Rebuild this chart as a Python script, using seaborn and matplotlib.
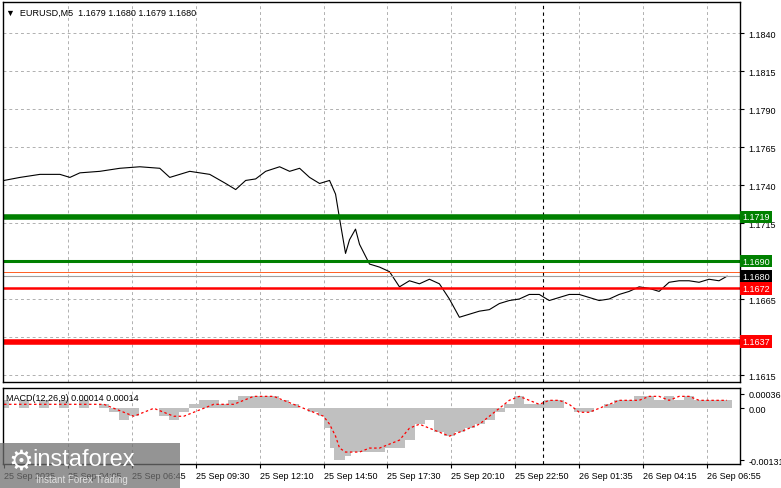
import matplotlib
matplotlib.use("Agg")
import matplotlib.pyplot as plt
import seaborn as sns
import pandas as pd
from matplotlib.patches import Rectangle

plt.rcParams["font.family"] = "Liberation Sans"

price_bars = [0, 8, 18, 28, 33, 38, 48, 58, 68, 78, 83, 93, 103, 111, 116, 121, 126, 131, 138, 143, 148, 153, 158, 163, 166, 168, 171, 173, 176, 178, 183, 188, 193, 198, 203, 208, 213, 218, 223, 228, 233, 238, 243, 248, 253, 258, 263, 268, 273, 278, 283, 288, 293, 298, 303, 308, 313, 318, 323, 328, 333, 338, 343, 348, 353, 358, 362]
price_vals = [1.1743, 1.1745, 1.1747, 1.1747, 1.1745, 1.1748, 1.1749, 1.1751, 1.1752, 1.1751, 1.1745, 1.1749, 1.1747, 1.1741, 1.1737, 1.1743, 1.1744, 1.1749, 1.1752, 1.1749, 1.1751, 1.1745, 1.1741, 1.1743, 1.1734, 1.1718, 1.1695, 1.1704, 1.1711, 1.1701, 1.1688, 1.1686, 1.1683, 1.1673, 1.1677, 1.1675, 1.1678, 1.1675, 1.1665, 1.1653, 1.1655, 1.1657, 1.1658, 1.1662, 1.1664, 1.1665, 1.1668, 1.1668, 1.1664, 1.1666, 1.1668, 1.1668, 1.1666, 1.1664, 1.1665, 1.1668, 1.1670, 1.1673, 1.1672, 1.1670, 1.1676, 1.1677, 1.1677, 1.1676, 1.1678, 1.1677, 1.1680]

macd_bars = [0, 10, 20, 30, 40, 50, 55, 60, 65, 70, 75, 80, 85, 90, 95, 100, 105, 110, 115, 120, 125, 130, 135, 140, 145, 150, 155, 160, 163, 166, 168, 171, 173, 176, 178, 183, 188, 193, 198, 203, 208, 213, 218, 223, 228, 233, 238, 243, 248, 253, 258, 263, 268, 273, 278, 283, 288, 293, 298, 303, 308, 313, 318, 323, 328, 333, 338, 343, 348, 353, 358, 362]
macd_hist = [0.0002, 0.0002, 0.0002, 0.0002, 0.0002, 0.0001, -0.0001, -0.0003, -0.0002, 0.0000, 0.0000, -0.0002, -0.0003, -0.0001, 0.0001, 0.0002, 0.0002, 0.0001, 0.0002, 0.0003, 0.0003, 0.0003, 0.0003, 0.0002, 0.0001, 0.0000, -0.0001, -0.0002, -0.0005, -0.0010, -0.0013, -0.0012, -0.0011, -0.0011, -0.0011, -0.0011, -0.0011, -0.0010, -0.0010, -0.0008, -0.0004, -0.0003, -0.0006, -0.0007, -0.0006, -0.0005, -0.0004, -0.0003, -0.0001, 0.0001, 0.0003, 0.0001, 0.0001, 0.0002, 0.0002, 0.0000, -0.0001, -0.0001, 0.0000, 0.0001, 0.0002, 0.0002, 0.0003, 0.0003, 0.0002, 0.0003, 0.0002, 0.0003, 0.0002, 0.0002, 0.0002, 0.0002]
macd_signal = [0.0001, 0.0001, 0.0001, 0.0001, 0.0001, 0.0001, 0.0000, -0.0001, -0.0002, -0.0001, 0.0000, -0.0001, -0.0002, -0.0002, -0.0001, 0.0000, 0.0001, 0.0001, 0.0001, 0.0002, 0.0003, 0.0003, 0.0003, 0.0002, 0.0001, 0.0000, -0.0001, -0.0002, -0.0004, -0.0007, -0.0010, -0.0011, -0.0011, -0.0011, -0.0011, -0.0010, -0.0010, -0.0009, -0.0008, -0.0005, -0.0004, -0.0005, -0.0006, -0.0007, -0.0006, -0.0005, -0.0004, -0.0002, 0.0000, 0.0002, 0.0003, 0.0002, 0.0001, 0.0002, 0.0002, 0.0001, -0.0001, -0.0001, 0.0000, 0.0001, 0.0002, 0.0002, 0.0002, 0.0003, 0.0003, 0.0002, 0.0003, 0.0003, 0.0002, 0.0002, 0.0002, 0.0002]

tick_labels = ["25 Sep 2025", "25 Sep 04:05", "25 Sep 06:45", "25 Sep 09:30", "25 Sep 12:10", "25 Sep 14:50",
               "25 Sep 17:30", "25 Sep 20:10", "25 Sep 22:50", "26 Sep 01:35", "26 Sep 04:15", "26 Sep 06:55"]
price_ticks = [1.1840, 1.1815, 1.1790, 1.1765, 1.1740, 1.1715, 1.1665, 1.1615]
levels = [(1.1719, "#008000", 4.0), (1.1690, "#008000", 2.2), (1.1672, "#ff0000", 1.8), (1.1637, "#ff0000", 4.0)]
current_price = 1.1680
ask_price = 1.1683
vline_bar = 270

W, H = 781, 489
fig = plt.figure(figsize=(7.81, 4.89), dpi=100)
fig.patch.set_facecolor("white")
xl, xr = 3 / W, 740 / W
ax = fig.add_axes([xl, 1 - 383 / H, xr - xl, 380 / H])
ax2 = fig.add_axes([xl, 1 - 465 / H, xr - xl, 76 / H])
xmin, xmax = -0.5, 368.5
tick_pos = [32 * i for i in range(len(tick_labels))]

df = pd.DataFrame({"bar": price_bars, "price": price_vals})
sns.lineplot(data=df, x="bar", y="price", ax=ax, color="black", lw=0.8)
ax.set_ylim(1.16104, 1.18604)
for a in (ax, ax2):
    a.set_xlim(xmin, xmax)
    a.set_xlabel(""); a.set_ylabel("")
    a.set_xticks(tick_pos)
    for t in tick_pos[1:]:
        a.axvline(t, color="#b0b0b0", ls=(0, (3, 3)), lw=0.7, zorder=0)
    a.axvline(vline_bar, color="black", ls=(0, (3, 3)), lw=0.8)
    for s in a.spines.values():
        s.set_color("black"); s.set_linewidth(1)
    a.yaxis.tick_right()
    a.tick_params(axis="y", labelsize=6.5, length=3, pad=3)
ax.set_xticklabels([])
ax.tick_params(axis="x", length=0)
ax.set_yticks(price_ticks)
ax.set_yticklabels([f"{p:.4f}" for p in price_ticks])
for p in price_ticks + [1.1690, 1.1640]:
    ax.axhline(p, color="#b0b0b0", ls=(0, (3, 3)), lw=0.7, zorder=0)
ax.axhline(current_price, color="#a0a0a0", lw=0.8)
ax.axhline(ask_price, color="#ff4500", lw=0.6)
for lv, c, lw in levels:
    ax.axhline(lv, color=c, lw=lw)

def tag(y, text, color, axis=ax):
    axis.text(1.003, y, text, transform=axis.get_yaxis_transform(), color="white", fontsize=6.5,
              va="center", ha="left", bbox=dict(boxstyle="square,pad=0.2", fc=color, ec="none"), clip_on=False)
tag(levels[0][0], "1.1719", "#008000")
tag(levels[1][0], "1.1690", "#008000")
tag(current_price, "1.1680", "black")
tag(levels[2][0], "1.1672", "#ff0000")
tag(levels[3][0], "1.1637", "#ff0000")

ax.text(0.004, 0.985, "\u25bc  EURUSD,M5  1.1679 1.1680 1.1679 1.1680", transform=ax.transAxes,
        fontsize=6.5, va="top", ha="left")

ax2.bar(macd_bars, macd_hist, width=5.2, color="#c0c0c0", align="center", lw=0)
sns.lineplot(x=macd_bars, y=macd_signal, ax=ax2, color="red", lw=0.9, ls=(0, (2, 2)))
ax2.set_ylim(-0.0014, 0.00051)
ax2.set_yticks([0.00036, 0.0, -0.00131])
ax2.set_yticklabels(["0.00036", "0.00", "-0.00131"])
ax2.set_xticklabels(tick_labels, fontsize=6.5, ha="left")
ax2.tick_params(axis="x", length=3, pad=2)
ax2.text(0.004, 0.94, "MACD(12,26,9) 0.00014 0.00014", transform=ax2.transAxes, fontsize=6.5, va="top")

fig.patches.append(Rectangle((0, 0), 180 / W, 45 / H, transform=fig.transFigure, fc="#707070", alpha=0.75, ec="none"))
fig.text(32 / W, 1 - 460 / H, "instaforex", fontsize=17, color="white", va="center", ha="left")
fig.text(36 / W, 1 - 480 / H, "Instant Forex Trading", fontsize=7, color="#e0e0e0", va="center", ha="left")
fig.text(8 / W, 1 - 462 / H, "\u2699", fontsize=20, color="white", va="center", ha="left", family="DejaVu Sans")

fig.savefig("out.png", dpi=100)
